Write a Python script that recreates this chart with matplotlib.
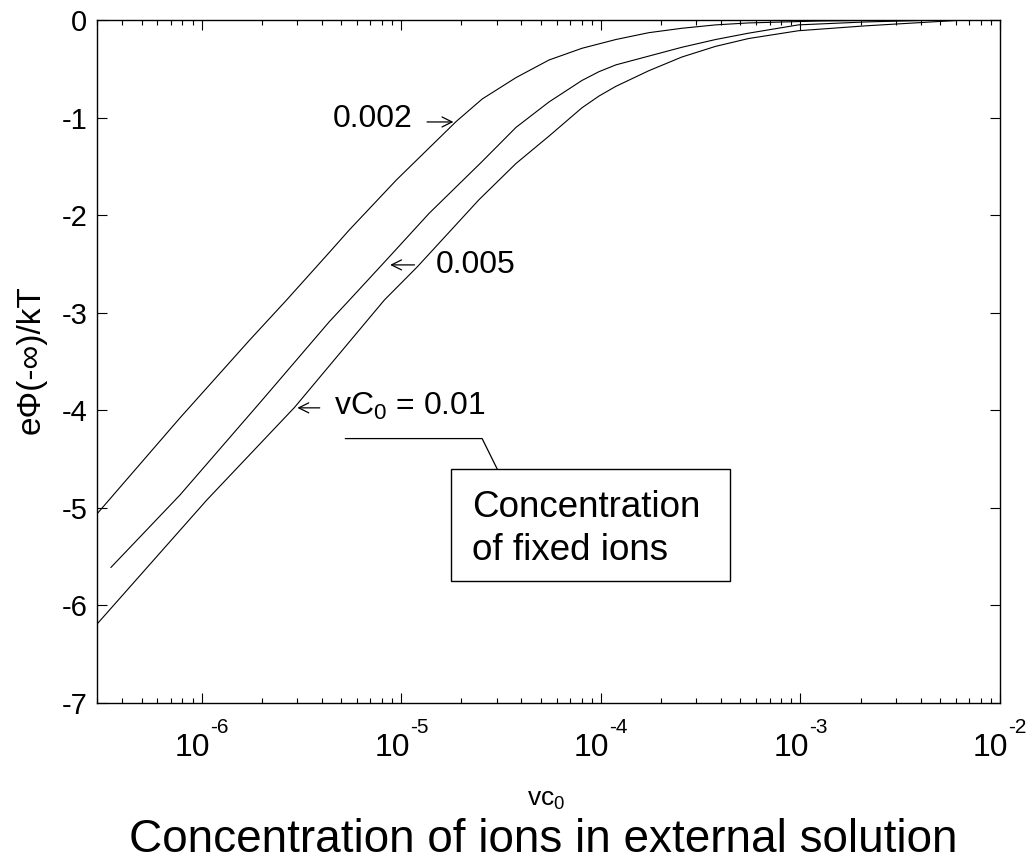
import numpy as np
import matplotlib
matplotlib.use('Agg')
import matplotlib.pyplot as plt
from matplotlib.patches import Rectangle

# values (log10 of vc0, e*phi/kT)
logc_002 = [-6.52, -6.11, -5.76, -5.575, -5.36, -5.26, -5.025, -4.725, -4.595, -4.51,
            -4.425, -4.26, -4.095, -3.925, -3.76, -3.595, -3.425, -3.26, -2.9, -2.5]
phi_002 = [-5.05, -4.08, -3.28, -2.87, -2.38, -2.15, -1.64, -1.04, -0.81, -0.70,
           -0.59, -0.41, -0.29, -0.20, -0.13, -0.085, -0.05, -0.03, -0.01, 0.0]

logc_005 = [-6.455, -6.11, -5.695, -5.36, -5.26, -5.075, -4.86, -4.6, -4.425, -4.26,
            -4.095, -4.01, -3.925, -3.76, -3.595, -3.425, -3.26, -3.01, -2.675, -2.3]
phi_005 = [-5.61, -4.87, -3.89, -3.09, -2.87, -2.46, -1.98, -1.46, -1.10, -0.84,
           -0.62, -0.53, -0.46, -0.37, -0.28, -0.20, -0.135, -0.05, -0.02, 0.0]

logc_01 = [-6.52, -5.975, -5.535, -5.085, -4.92, -4.61, -4.425, -4.26, -4.095, -4.01,
           -3.925, -3.76, -3.595, -3.425, -3.26, -3.01, -2.675, -2.345, -2.175]
phi_01 = [-6.18, -4.92, -3.97, -2.87, -2.53, -1.84, -1.47, -1.19, -0.90, -0.78,
          -0.68, -0.52, -0.38, -0.27, -0.19, -0.11, -0.06, -0.02, 0.0]

xtick_pos = [1e-6, 1e-5, 1e-4, 1e-3, 1e-2]
xtick_exp = ['-6', '-5', '-4', '-3', '-2']
ytick_pos = [0, -1, -2, -3, -4, -5, -6, -7]

plt.rcParams['font.family'] = ['Liberation Sans', 'DejaVu Sans']
plt.rcParams['mathtext.fontset'] = 'custom'
plt.rcParams['mathtext.rm'] = 'Liberation Sans'
plt.rcParams['mathtext.it'] = 'Liberation Sans'

fig = plt.figure(figsize=(10.31, 8.65), dpi=100)
ax = fig.add_axes([97/1031, 1 - 703/865, 903/1031, 683/865])

for lc, ph in [(logc_002, phi_002), (logc_005, phi_005), (logc_01, phi_01)]:
    ax.plot(10 ** np.array(lc), ph, color='black', lw=0.8)

ax.set_xscale('log')
ax.set_xlim(10 ** -6.525, 1e-2)
ax.set_ylim(-7, 0)
ax.set_xticks(xtick_pos)
ax.set_xticklabels([])
ax.set_yticks(ytick_pos)
ax.set_yticklabels([str(v) for v in ytick_pos])
ax.tick_params(which='both', direction='in', top=True, right=True, labelsize=21, width=0.8)
ax.tick_params(which='major', length=7)
ax.tick_params(which='minor', length=3.5)
ax.tick_params(axis='y', pad=7)
for s in ax.spines.values():
    s.set_linewidth(1.0)

# x tick labels as 10 with raised exponent
for v, e in zip(xtick_pos, xtick_exp):
    ax.annotate('10', xy=(v, 0), xycoords=('data', 'axes fraction'), xytext=(6, -38),
                textcoords='offset points', ha='right', va='baseline', fontsize=23)
    ax.annotate(e, xy=(v, 0), xycoords=('data', 'axes fraction'), xytext=(6, -21.5),
                textcoords='offset points', ha='left', va='baseline', fontsize=15)

fig.text(546/1031, (865 - 806)/865, r'vc$_\mathregular{0}$', fontsize=19, ha='center', va='baseline')
fig.text(31/1031, 1 - 360/865, 'eΦ(-∞)/kT', fontsize=24, rotation=90, ha='center', va='center')
fig.text(543.5/1031, (865 - 852)/865, 'Concentration of ions in external solution', fontsize=33,
         ha='center', va='baseline')

# annotations
arrow = dict(arrowstyle='->', color='black', lw=0.9, mutation_scale=18)
ax.annotate('', xy=(10 ** -4.725, -1.045), xytext=(10 ** -4.885, -1.045), arrowprops=arrow)
ax.text(10 ** -4.945, -1.10, '0.002', fontsize=23, ha='right', va='baseline')
ax.annotate('', xy=(10 ** -5.07, -2.51), xytext=(10 ** -4.92, -2.51), arrowprops=arrow)
ax.text(10 ** -4.825, -2.59, '0.005', fontsize=23, ha='left', va='baseline')
ax.annotate('', xy=(10 ** -5.535, -3.975), xytext=(10 ** -5.395, -3.975), arrowprops=arrow)
ax.text(10 ** -5.335, -4.05, r'vC$_\mathregular{0}$ = 0.01', fontsize=23, ha='left', va='baseline')

ax.plot([10 ** -5.28, 10 ** -4.595, 10 ** -4.52], [-4.29, -4.29, -4.60], color='black', lw=0.9)
ax.add_patch(Rectangle((10 ** -4.75, -5.75), 10 ** -3.355 - 10 ** -4.75, 1.15,
                       fill=False, edgecolor='black', lw=1.0))
ax.text(10 ** -4.645, -5.09, 'Concentration', fontsize=26.5, ha='left', va='baseline')
ax.text(10 ** -4.645, -5.53, 'of fixed ions', fontsize=26.5, ha='left', va='baseline')

plt.savefig('out.png', dpi=100)
